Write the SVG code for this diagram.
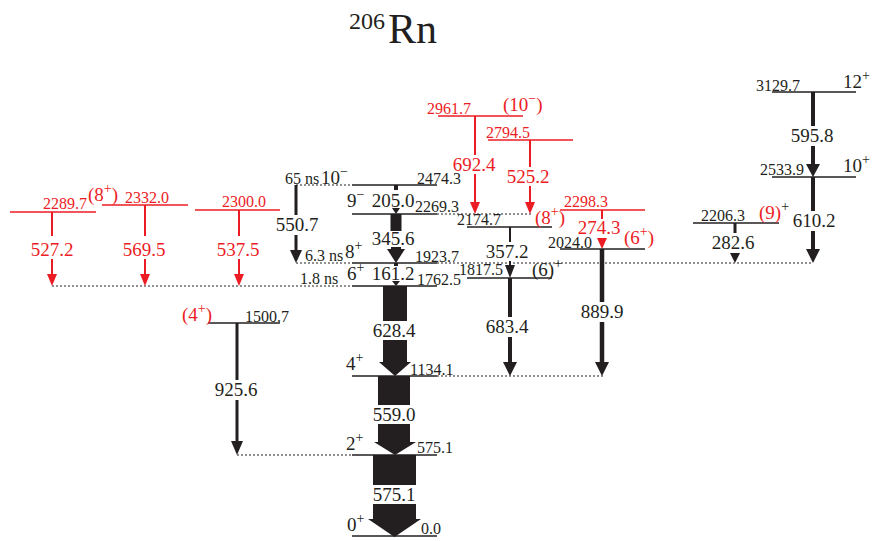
<svg xmlns="http://www.w3.org/2000/svg" width="873" height="541" viewBox="0 0 873 541">
<style>
text{font-family:"Liberation Serif","Times New Roman",serif}
.e{font-size:16px;fill:#231f20}
.er{font-size:16px;fill:#ec1c24}
.s{font-size:19px;fill:#231f20}
.sr{font-size:19px;fill:#ec1c24}
.sup{font-size:14px}
.lv{stroke:#231f20;stroke-width:1.3}
.lvr{stroke:#ec1c24;stroke-width:1.3}
.dot{stroke:#231f20;stroke-width:1;stroke-dasharray:2 2;fill:none}
.g{font-size:19px;text-anchor:middle;fill:#231f20}
.gr{font-size:19px;text-anchor:middle;fill:#ec1c24}
.k{fill:#231f20}
.r{fill:#ec1c24}
.ka{stroke:#231f20}
.ra{stroke:#ec1c24;stroke-width:2}
</style>
<rect width="873" height="541" fill="#fff"/>
<g id="title" class="k">
<text x="349" y="29" font-size="24">206</text>
<text x="388" y="43" font-size="42">Rn</text>
</g>
<g id="connectors">
<!-- dotted extension lines -->
<line class="dot" x1="52" y1="286" x2="352" y2="286"/>
<line class="dot" x1="296" y1="263" x2="352" y2="263"/>
<line class="dot" x1="437" y1="263" x2="813" y2="263"/>
<line class="dot" x1="296" y1="185" x2="352" y2="185"/>
<line class="dot" x1="437" y1="214" x2="532" y2="214"/>
<line class="dot" x1="437" y1="376" x2="603" y2="376"/>
<line class="dot" x1="237" y1="455" x2="352" y2="455"/>
<!-- red transitions -->
<g id="t527"><line class="ra" x1="52" y1="212" x2="52" y2="236"/><line class="ra" x1="52" y1="259" x2="52" y2="276"/><polygon class="r" points="47,274 57,274 52,286"/><text class="gr" x="52" y="256">527.2</text></g>
<g id="t569"><line class="ra" x1="145" y1="205" x2="145" y2="236"/><line class="ra" x1="145" y1="259" x2="145" y2="276"/><polygon class="r" points="140,274 150,274 145,286"/><text class="gr" x="144" y="256">569.5</text></g>
<g id="t537"><line class="ra" x1="239" y1="210" x2="239" y2="236"/><line class="ra" x1="239" y1="259" x2="239" y2="276"/><polygon class="r" points="234,274 244,274 239,286"/><text class="gr" x="238" y="256">537.5</text></g>
<g id="t692"><line class="ra" x1="475" y1="116" x2="475" y2="155"/><line class="ra" x1="475" y1="174" x2="475" y2="204"/><polygon class="r" points="470,202 480,202 475,214"/><text class="gr" x="474" y="171">692.4</text></g>
<g id="t525"><line class="ra" x1="530" y1="140" x2="530" y2="167"/><line class="ra" x1="530" y1="186" x2="530" y2="204"/><polygon class="r" points="525,202 535,202 530,214"/><text class="gr" x="528" y="183">525.2</text></g>
<g id="t274"><line class="ra" x1="602" y1="210" x2="602" y2="219"/><polygon class="r" points="597,238 607,238 602,249"/><text class="gr" x="599" y="234">274.3</text></g>
<!-- black transitions -->
<g id="t550"><line class="ka" stroke-width="3" x1="296" y1="185" x2="296" y2="215"/><line class="ka" stroke-width="3" x1="296" y1="235" x2="296" y2="252"/><polygon class="k" points="290,250 302,250 296,263"/><text class="g" x="297" y="231">550.7</text></g>
<g id="t925"><line class="ka" stroke-width="3" x1="237" y1="323" x2="237" y2="380"/><line class="ka" stroke-width="3" x1="237" y1="400" x2="237" y2="443"/><polygon class="k" points="231,441 243,441 237,455"/><text class="g" x="236" y="396">925.6</text></g>
<g id="t357"><line class="ka" stroke-width="2" x1="510" y1="227" x2="510" y2="242"/><line class="ka" stroke-width="2" x1="510" y1="261" x2="510" y2="267"/><polygon class="k" points="505,265 515,265 510,278"/><text class="g" x="507" y="258">357.2</text></g>
<g id="t683"><line class="ka" stroke-width="4" x1="510" y1="278" x2="510" y2="317"/><line class="ka" stroke-width="4" x1="510" y1="337" x2="510" y2="364"/><polygon class="k" points="503,362 517,362 510,376"/><text class="g" x="507" y="333">683.4</text></g>
<g id="t889"><line class="ka" stroke-width="4.5" x1="602" y1="249" x2="602" y2="302"/><line class="ka" stroke-width="4.5" x1="602" y1="322" x2="602" y2="364"/><polygon class="k" points="595,362 609,362 602,376"/><text class="g" x="602" y="318">889.9</text></g>
<g id="t595"><line class="ka" stroke-width="4" x1="813" y1="92" x2="813" y2="126"/><line class="ka" stroke-width="4" x1="813" y1="146" x2="813" y2="166"/><polygon class="k" points="806,164 820,164 813,177"/><text class="g" x="812" y="142">595.8</text></g>
<g id="t610"><line class="ka" stroke-width="4" x1="813" y1="177" x2="813" y2="211"/><line class="ka" stroke-width="4" x1="813" y1="231" x2="813" y2="251"/><polygon class="k" points="806,249 820,249 813,263"/><text class="g" x="814" y="227">610.2</text></g>
<g id="t282"><line class="ka" stroke-width="3" x1="735" y1="223" x2="735" y2="233"/><polygon class="k" points="730,253 740,253 735,263"/><text class="g" x="733" y="249">282.6</text></g>
<!-- intense transitions -->
<g id="t205"><rect class="k" x="394" y="185" width="4" height="5"/><polygon class="k" points="392,208 400,208 396,214"/><text class="g" x="393" y="207">205.0</text></g>
<g id="t345"><rect class="k" x="390.5" y="214" width="11" height="17"/><rect class="k" x="391" y="247" width="10" height="3"/><polygon class="k" points="387,249 405,249 396,263"/><text class="g" x="393" y="245">345.6</text></g>
<g id="t161"><rect class="k" x="394" y="263" width="4" height="3"/><polygon class="k" points="392,281 400,281 396,286"/><text class="g" x="393" y="280">161.2</text></g>
<g id="t628"><rect class="k" x="383" y="286" width="24" height="35"/><rect class="k" x="383" y="340" width="24" height="23"/><polygon class="k" points="379,362 411,362 395,376"/><text class="g" x="394" y="337">628.4</text></g>
<g id="t559"><rect class="k" x="378" y="376" width="32" height="29"/><rect class="k" x="378" y="424" width="32" height="19"/><polygon class="k" points="374,442 416,442 395,455"/><text class="g" x="394" y="421">559.0</text></g>
<g id="t575"><rect class="k" x="373" y="455" width="43" height="30"/><rect class="k" x="373" y="504" width="43" height="16"/><polygon class="k" points="368,519 421,519 394.5,537"/><text class="g" x="394" y="501">575.1</text></g>
</g>
<g id="L0">
<line class="lv" x1="352" y1="536" x2="437" y2="536"/>
<text class="s" x="347" y="531">0<tspan class="sup" dy="-8">+</tspan></text>
<text class="e" x="421" y="534">0.0</text>
</g>
<g id="L575">
<line class="lv" x1="352" y1="455" x2="437" y2="455"/>
<text class="s" x="346" y="450">2<tspan class="sup" dy="-8">+</tspan></text>
<text class="e" x="417" y="453">575.1</text>
</g>
<g id="L1134">
<line class="lv" x1="352" y1="376" x2="437" y2="376"/>
<text class="s" x="346" y="370">4<tspan class="sup" dy="-8">+</tspan></text>
<text class="e" x="410" y="375">1134.1</text>
</g>
<g id="L1500">
<line class="lv" x1="208" y1="323" x2="280" y2="323"/>
<text class="sr" x="182" y="321">(4<tspan class="sup" dy="-8">+</tspan><tspan dy="8">)</tspan></text>
<text class="e" x="245" y="322">1500.7</text>
</g>
<g id="L1762">
<line class="lv" x1="352" y1="286" x2="437" y2="286"/>
<text class="s" x="347" y="280">6<tspan class="sup" dy="-8">+</tspan></text>
<text class="e" x="417" y="285">1762.5</text>
<text class="e" x="300" y="284" font-size="15">1.8 ns</text>
</g>
<g id="L1817">
<line class="lv" x1="467" y1="278" x2="552" y2="278"/>
<text class="e" x="459" y="275">1817.5</text>
<text class="s" x="532" y="276">(6)<tspan class="sup" dy="-8">+</tspan></text>
</g>
<g id="L1923">
<line class="lv" x1="352" y1="263" x2="437" y2="263"/>
<text class="s" x="345" y="258">8<tspan class="sup" dy="-8">+</tspan></text>
<text class="e" x="415" y="262">1923.7</text>
<text class="e" x="305" y="261" font-size="15">6.3 ns</text>
</g>
<g id="L2024">
<line class="lv" x1="560" y1="249" x2="645" y2="249"/>
<text class="e" x="548" y="248">2024.0</text>
<text class="sr" x="624" y="244">(6<tspan class="sup" dy="-8">+</tspan><tspan dy="8">)</tspan></text>
</g>
<g id="L2174">
<line class="lv" x1="467" y1="227" x2="552" y2="227"/>
<text class="e" x="457" y="225">2174.7</text>
<text class="sr" x="535" y="224">(8<tspan class="sup" dy="-8">+</tspan><tspan dy="8">)</tspan></text>
</g>
<g id="L2206">
<line class="lv" x1="693" y1="223" x2="779" y2="223"/>
<text class="e" x="701" y="221">2206.3</text>
<text class="sr" x="759" y="219">(9)<tspan class="sup" dy="-8" fill="#231f20">+</tspan></text>
</g>
<g id="L2269">
<line class="lv" x1="352" y1="214" x2="437" y2="214"/>
<text class="s" x="347" y="207">9<tspan class="sup" dy="-8">−</tspan></text>
<text class="e" x="415" y="212">2269.3</text>
</g>
<g id="L2289">
<line class="lvr" x1="10" y1="212" x2="96" y2="212"/>
<text class="er" x="43" y="209">2289.7</text>
<text class="sr" x="88" y="201">(8<tspan class="sup" dy="-8">+</tspan><tspan dy="8">)</tspan></text>
</g>
<g id="L2298">
<line class="lvr" x1="560" y1="210" x2="645" y2="210"/>
<text class="er" x="564" y="207">2298.3</text>
</g>
<g id="L2300">
<line class="lvr" x1="195" y1="210" x2="280" y2="210"/>
<text class="er" x="222" y="207">2300.0</text>
</g>
<g id="L2332">
<line class="lvr" x1="102" y1="205" x2="188" y2="205"/>
<text class="er" x="125" y="203">2332.0</text>
</g>
<g id="L2474">
<line class="lv" x1="352" y1="185" x2="437" y2="185"/>
<text class="e" x="285" y="184" font-size="15">65 ns</text>
<text class="s" x="321" y="184">10<tspan class="sup" dy="-8">−</tspan></text>
<text class="e" x="417" y="184">2474.3</text>
</g>
<g id="L2533">
<line class="lv" x1="772" y1="177" x2="856" y2="177"/>
<text class="e" x="760" y="175">2533.9</text>
<text class="s" x="843" y="172">10<tspan class="sup" dy="-8">+</tspan></text>
</g>
<g id="L2794">
<line class="lvr" x1="488" y1="140" x2="573" y2="140"/>
<text class="er" x="486" y="138">2794.5</text>
</g>
<g id="L2961">
<line class="lvr" x1="438" y1="116" x2="523" y2="116"/>
<text class="er" x="427" y="114">2961.7</text>
<text class="sr" x="503" y="111">(10<tspan class="sup" dy="-8">−</tspan><tspan dy="8">)</tspan></text>
</g>
<g id="L3129">
<line class="lv" x1="772" y1="92" x2="856" y2="92"/>
<text class="e" x="756" y="91">3129.7</text>
<text class="s" x="843" y="88">12<tspan class="sup" dy="-8">+</tspan></text>
</g>
</svg>
